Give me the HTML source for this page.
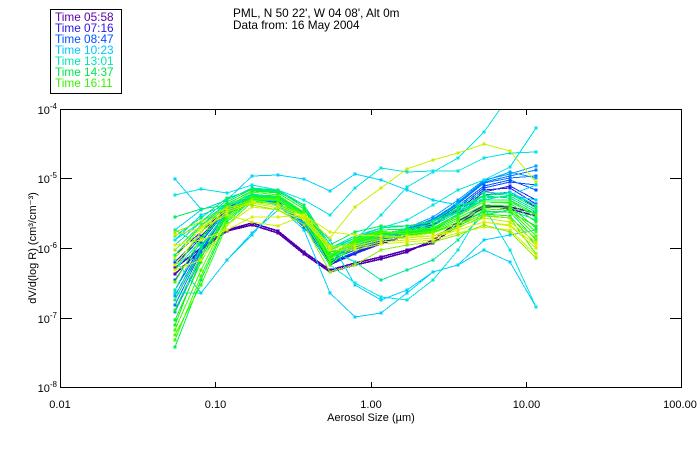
<!DOCTYPE html>
<html>
<head>
<meta charset="utf-8">
<style>
  html,body{margin:0;padding:0;background:#fff;}
  svg{display:block;}
  text{font-family:"Liberation Sans",sans-serif;font-size:11px;fill:#000;}
  text.big{font-size:11.8px;}
  .d{fill:none;stroke-width:1;shape-rendering:crispEdges;}
  .p{stroke:#5000b0;marker:url(#mp);stroke-width:1.6;}
  .b1{stroke:#2020f0;marker:url(#mb1);}
  .b2{stroke:#0050ff;marker:url(#mb2);}
  .b3{stroke:#0078ff;marker:url(#mb3);}
  .b4{stroke:#00a0ff;marker:url(#mb4);}
  .cy{stroke:#00d2ff;marker:url(#mcy);}
  .cy2{stroke:#00e6e6;marker:url(#mcy2);}
  .tl{stroke:#00e6a0;marker:url(#mtl);}
  .g1{stroke:#00f064;marker:url(#mg1);}
  .g2{stroke:#14f028;marker:url(#mg2);}
  .g3{stroke:#3cff00;marker:url(#mg3);}
  .y1{stroke:#8cf000;marker:url(#my1);}
  .y2{stroke:#c8f000;marker:url(#my2);}
  .y3{stroke:#dcf000;marker:url(#my3);}
</style>
</head>
<body>
<svg width="700" height="450" viewBox="0 0 700 450" xmlns="http://www.w3.org/2000/svg">
<defs>
  <clipPath id="plot"><rect x="60" y="109" width="622" height="279"/></clipPath>
  <marker id="mp" viewBox="0 0 3 3" refX="1.5" refY="1.5" markerWidth="3" markerHeight="3" markerUnits="userSpaceOnUse"><rect width="3" height="3" fill="#5000b0"/></marker>
  <marker id="mb1" viewBox="0 0 3 3" refX="1.5" refY="1.5" markerWidth="3" markerHeight="3" markerUnits="userSpaceOnUse"><rect width="3" height="3" fill="#2020f0"/></marker>
  <marker id="mb2" viewBox="0 0 3 3" refX="1.5" refY="1.5" markerWidth="3" markerHeight="3" markerUnits="userSpaceOnUse"><rect width="3" height="3" fill="#0050ff"/></marker>
  <marker id="mb3" viewBox="0 0 3 3" refX="1.5" refY="1.5" markerWidth="3" markerHeight="3" markerUnits="userSpaceOnUse"><rect width="3" height="3" fill="#0078ff"/></marker>
  <marker id="mb4" viewBox="0 0 3 3" refX="1.5" refY="1.5" markerWidth="3" markerHeight="3" markerUnits="userSpaceOnUse"><rect width="3" height="3" fill="#00a0ff"/></marker>
  <marker id="mcy" viewBox="0 0 3 3" refX="1.5" refY="1.5" markerWidth="3" markerHeight="3" markerUnits="userSpaceOnUse"><rect width="3" height="3" fill="#00d2ff"/></marker>
  <marker id="mcy2" viewBox="0 0 3 3" refX="1.5" refY="1.5" markerWidth="3" markerHeight="3" markerUnits="userSpaceOnUse"><rect width="3" height="3" fill="#00e6e6"/></marker>
  <marker id="mtl" viewBox="0 0 3 3" refX="1.5" refY="1.5" markerWidth="3" markerHeight="3" markerUnits="userSpaceOnUse"><rect width="3" height="3" fill="#00e6a0"/></marker>
  <marker id="mg1" viewBox="0 0 3 3" refX="1.5" refY="1.5" markerWidth="3" markerHeight="3" markerUnits="userSpaceOnUse"><rect width="3" height="3" fill="#00f064"/></marker>
  <marker id="mg2" viewBox="0 0 3 3" refX="1.5" refY="1.5" markerWidth="3" markerHeight="3" markerUnits="userSpaceOnUse"><rect width="3" height="3" fill="#14f028"/></marker>
  <marker id="mg3" viewBox="0 0 3 3" refX="1.5" refY="1.5" markerWidth="3" markerHeight="3" markerUnits="userSpaceOnUse"><rect width="3" height="3" fill="#3cff00"/></marker>
  <marker id="my1" viewBox="0 0 3 3" refX="1.5" refY="1.5" markerWidth="3" markerHeight="3" markerUnits="userSpaceOnUse"><rect width="3" height="3" fill="#8cf000"/></marker>
  <marker id="my2" viewBox="0 0 3 3" refX="1.5" refY="1.5" markerWidth="3" markerHeight="3" markerUnits="userSpaceOnUse"><rect width="3" height="3" fill="#c8f000"/></marker>
  <marker id="my3" viewBox="0 0 3 3" refX="1.5" refY="1.5" markerWidth="3" markerHeight="3" markerUnits="userSpaceOnUse"><rect width="3" height="3" fill="#dcf000"/></marker>
</defs>

<!-- legend -->
<rect x="50.5" y="9.5" width="71" height="84" fill="#fff" stroke="#000" stroke-width="1"/>
<text class="big" x="55" y="21" style="fill:#5a00a8">Time 05:58</text>
<text class="big" x="55" y="32" style="fill:#2814e6">Time 07:16</text>
<text class="big" x="55" y="43" style="fill:#0050ff">Time 08:47</text>
<text class="big" x="55" y="54" style="fill:#00c8ff">Time 10:23</text>
<text class="big" x="55" y="65" style="fill:#00e6b4">Time 13:01</text>
<text class="big" x="55" y="76" style="fill:#00e650">Time 14:37</text>
<text class="big" x="55" y="87" style="fill:#3cf000">Time 16:11</text>

<!-- title -->
<text class="big" x="233" y="17">PML, N 50 22', W 04 08', Alt 0m</text>
<text class="big" x="233" y="29">Data from: 16 May 2004</text>

<!-- data -->
<g clip-path="url(#plot)">
<polyline class="d p" points="175,268 201,248 227,230 252,223 278,231 304,252 330,270 355,263 381,257 407,250 433,243 458,225 484,207 510,207 536,213"/>
<polyline class="d p" points="175,274 201,250 227,231 252,225 278,233 304,254 330,272 355,265 381,259 407,252 433,240 458,222 484,205 510,209 536,216"/>
<polyline class="d b1" points="175,255 201,232 227,208 252,196 278,202 304,222 330,262 355,252 381,242 407,236 433,226 458,212 484,192 510,186 536,200"/>
<polyline class="d b1" points="175,265 201,238 227,210 252,198 278,204 304,226 330,265 355,254 381,244 407,236 433,228 458,214 484,195 510,192 536,207"/>
<polyline class="d b1" points="175,262 201,236 227,209 252,197 278,203 304,224 330,264 355,253 381,243 407,235 433,225 458,210 484,190 510,188 536,204"/>
<polyline class="d b2" points="175,280 201,242 227,210 252,197 278,203 304,224 330,260 355,250 381,240 407,232 433,222 458,206 484,186 510,180 536,190"/>
<polyline class="d b2" points="175,290 201,246 227,212 252,199 278,205 304,227 330,263 355,252 381,241 407,233 433,224 458,208 484,188 510,182 536,185"/>
<polyline class="d b3" points="175,300 201,250 227,213 252,200 278,204 304,225 330,258 355,248 381,238 407,230 433,220 458,204 484,183 510,178 536,176"/>
<polyline class="d b3" points="175,305 201,252 227,212 252,198 278,203 304,222 330,256 355,247 381,237 407,229 433,219 458,203 484,182 510,176 536,170"/>
<polyline class="d b4" points="175,312 201,258 227,214 252,200 278,205 304,224 330,258 355,246 381,236 407,228 433,217 458,200 484,180 510,174 536,166"/>
<polyline class="d b4" points="175,296 201,247 227,211 252,199 278,204 304,223 330,257 355,249 381,239 407,231 433,221 458,202 484,181 510,172 536,178"/>
<polyline class="d cy" points="175,179 201,209 227,205 252,194 278,197 304,216 330,256 355,244 381,234 407,229 433,224 458,211 484,196 510,192 536,205"/>
<polyline class="d cy2" points="175,195 201,189 227,193 252,185 278,190 304,200 330,215 355,188 381,168 407,172 433,171 458,171 484,158 510,153 536,152"/>
<polyline class="d cy" points="175,230 201,210 227,200 252,176 278,175 304,179 330,191 355,174 381,180 407,190 433,200 458,205 484,200 510,195 536,185"/>
<polyline class="d cy" points="175,260 201,293 227,260 252,235 278,205 304,215 330,240 355,285 381,300 407,290 433,272 458,265 484,250 510,262 536,307"/>
<polyline class="d cy2" points="175,270 201,240 227,210 252,200 278,205 304,220 330,250 355,240 381,215 407,187 433,172 458,158 484,132 510,95 536,90"/>
<polyline class="d cy" points="175,240 201,215 227,205 252,198 278,205 304,230 330,293 355,317 381,313 407,293 433,272 458,265 484,240 510,235 536,230"/>
<polyline class="d cy2" points="175,250 201,225 227,206 252,198 278,205 304,225 330,265 355,283 381,297 407,300 433,280 458,250 484,207 510,250 536,307"/>
<polyline class="d tl" points="175,230 201,245 227,215 252,200 278,200 304,215 330,250 355,262 381,280 407,270 433,260 458,240 484,215 510,210 536,220"/>
<polyline class="d cy" points="175,293 201,293 227,260 252,233 278,210 304,220 330,255 355,245 381,240 407,235 433,230 458,215 484,200 510,195 536,200"/>
<polyline class="d cy2" points="175,240 201,222 227,205 252,196 278,200 304,215 330,248 355,238 381,228 407,220 433,205 458,190 484,180 510,167 536,128"/>
<polyline class="d tl" points="175,290 201,240 227,210 252,194 278,197 304,215 330,258 355,244 381,236 407,232 433,226 458,212 484,198 510,196 536,210"/>
<polyline class="d tl" points="175,245 201,222 227,200 252,188 278,190 304,205 330,248 355,236 381,228 407,226 433,221 458,205 484,192 510,194 536,205"/>
<polyline class="d g1" points="175,300 201,248 227,212 252,195 278,196 304,213 330,256 355,243 381,235 407,233 433,228 458,214 484,200 510,200 536,218"/>
<polyline class="d g1" points="175,236 201,218 227,198 252,190 278,192 304,205 330,245 355,232 381,226 407,226 433,222 458,208 484,195 510,194 536,208"/>
<polyline class="d g1" points="175,347 201,280 227,222 252,200 278,201 304,217 330,262 355,241 381,233 407,235 433,233 458,224 484,211 510,212 536,240"/>
<polyline class="d g2" points="175,310 201,255 227,214 252,196 278,197 304,214 330,257 355,242 381,234 407,232 433,229 458,216 484,202 510,203 536,222"/>
<polyline class="d g2" points="175,320 201,262 227,216 252,197 278,198 304,214 330,258 355,241 381,233 407,233 433,230 458,218 484,205 510,206 536,228"/>
<polyline class="d g2" points="175,325 201,258 227,215 252,196 278,198 304,216 330,262 355,248 381,238 407,236 433,232 458,224 484,212 510,212 536,226"/>
<polyline class="d g1" points="175,217 201,209 227,205 252,196 278,198 304,213 330,255 355,240 381,233 407,230 433,226 458,212 484,200 510,200 536,214"/>
<polyline class="d g1" points="175,255 201,226 227,202 252,189 278,191 304,207 330,250 355,238 381,230 407,229 433,224 458,209 484,196 510,198 536,212"/>
<polyline class="d g3" points="175,330 201,270 227,218 252,198 278,199 304,215 330,259 355,240 381,232 407,234 433,231 458,220 484,207 510,208 536,232"/>
<polyline class="d g3" points="175,340 201,276 227,220 252,199 278,200 304,216 330,260 355,239 381,231 407,234 433,232 458,222 484,209 510,210 536,236"/>
<polyline class="d g3" points="175,282 201,238 227,207 252,192 278,195 304,212 330,255 355,242 381,233 407,231 433,228 458,216 484,202 510,202 536,215"/>
<polyline class="d g2" points="175,270 201,232 227,204 252,191 278,193 304,209 330,252 355,246 381,240 407,238 433,236 458,226 484,214 510,216 536,245"/>
<polyline class="d g3" points="175,335 201,285 227,225 252,202 278,203 304,220 330,265 355,244 381,236 407,238 433,236 458,228 484,216 510,218 536,254"/>
<polyline class="d y1" points="175,250 201,226 227,208 252,200 278,204 304,215 330,247 355,244 381,238 407,236 433,233 458,224 484,215 510,218 536,238"/>
<polyline class="d y2" points="175,265 201,232 227,212 252,203 278,208 304,218 330,248 355,248 381,242 407,240 433,238 458,230 484,222 510,226 536,248"/>
<polyline class="d y2" points="175,258 201,228 227,210 252,202 278,206 304,216 330,246 355,246 381,240 407,238 433,236 458,227 484,218 510,222 536,242"/>
<polyline class="d y3" points="175,270 201,260 227,225 252,207 278,210 304,220 330,250 355,250 381,244 407,242 433,240 458,233 484,227 510,230 536,255"/>
<polyline class="d y2" points="175,235 201,228 227,215 252,222 278,226 304,215 330,238 355,207 381,188 407,169 433,160 458,153 484,144 510,151 536,182"/>
<polyline class="d y1" points="175,232 201,222 227,207 252,205 278,210 304,225 330,272 355,265 381,250 407,245 433,242 458,235 484,225 510,232 536,258"/>
<polyline class="d y3" points="175,245 201,240 227,230 252,217 278,217 304,215 330,232 355,235 381,236 407,236 433,236 458,230 484,222 510,225 536,245"/>
</g>

<!-- axes box -->
<rect x="60.5" y="109.5" width="621" height="278" fill="none" stroke="#000" stroke-width="1" shape-rendering="crispEdges"/>
<g stroke="#000" stroke-width="1" shape-rendering="crispEdges">
  <line x1="60" y1="178.5" x2="72" y2="178.5"/>
  <line x1="60" y1="248.5" x2="72" y2="248.5"/>
  <line x1="60" y1="318.5" x2="72" y2="318.5"/>
  <line x1="670" y1="178.5" x2="682" y2="178.5"/>
  <line x1="670" y1="248.5" x2="682" y2="248.5"/>
  <line x1="670" y1="318.5" x2="682" y2="318.5"/>
  <line x1="215.5" y1="388" x2="215.5" y2="382"/>
  <line x1="371.5" y1="388" x2="371.5" y2="382"/>
  <line x1="526.5" y1="388" x2="526.5" y2="382"/>
  <line x1="215.5" y1="109" x2="215.5" y2="115"/>
  <line x1="371.5" y1="109" x2="371.5" y2="115"/>
  <line x1="526.5" y1="109" x2="526.5" y2="115"/>
</g>

<!-- y tick labels -->
<text x="57" y="114" text-anchor="end">10<tspan dy="-5" style="font-size:8px">-4</tspan></text>
<text x="57" y="183" text-anchor="end">10<tspan dy="-5" style="font-size:8px">-5</tspan></text>
<text x="57" y="253" text-anchor="end">10<tspan dy="-5" style="font-size:8px">-6</tspan></text>
<text x="57" y="323" text-anchor="end">10<tspan dy="-5" style="font-size:8px">-7</tspan></text>
<text x="57" y="392" text-anchor="end">10<tspan dy="-5" style="font-size:8px">-8</tspan></text>

<!-- x tick labels -->
<text x="60" y="408" text-anchor="middle">0.01</text>
<text x="215.5" y="408" text-anchor="middle">0.10</text>
<text x="371" y="408" text-anchor="middle">1.00</text>
<text x="526.5" y="408" text-anchor="middle">10.00</text>
<text x="680" y="408" text-anchor="middle">100.00</text>

<text x="371" y="421" text-anchor="middle">Aerosol Size (µm)</text>

<text transform="translate(36,248) rotate(-90)" text-anchor="middle">dV/d(log R)  (cm³/cm⁻³)</text>
</svg>
</body>
</html>
